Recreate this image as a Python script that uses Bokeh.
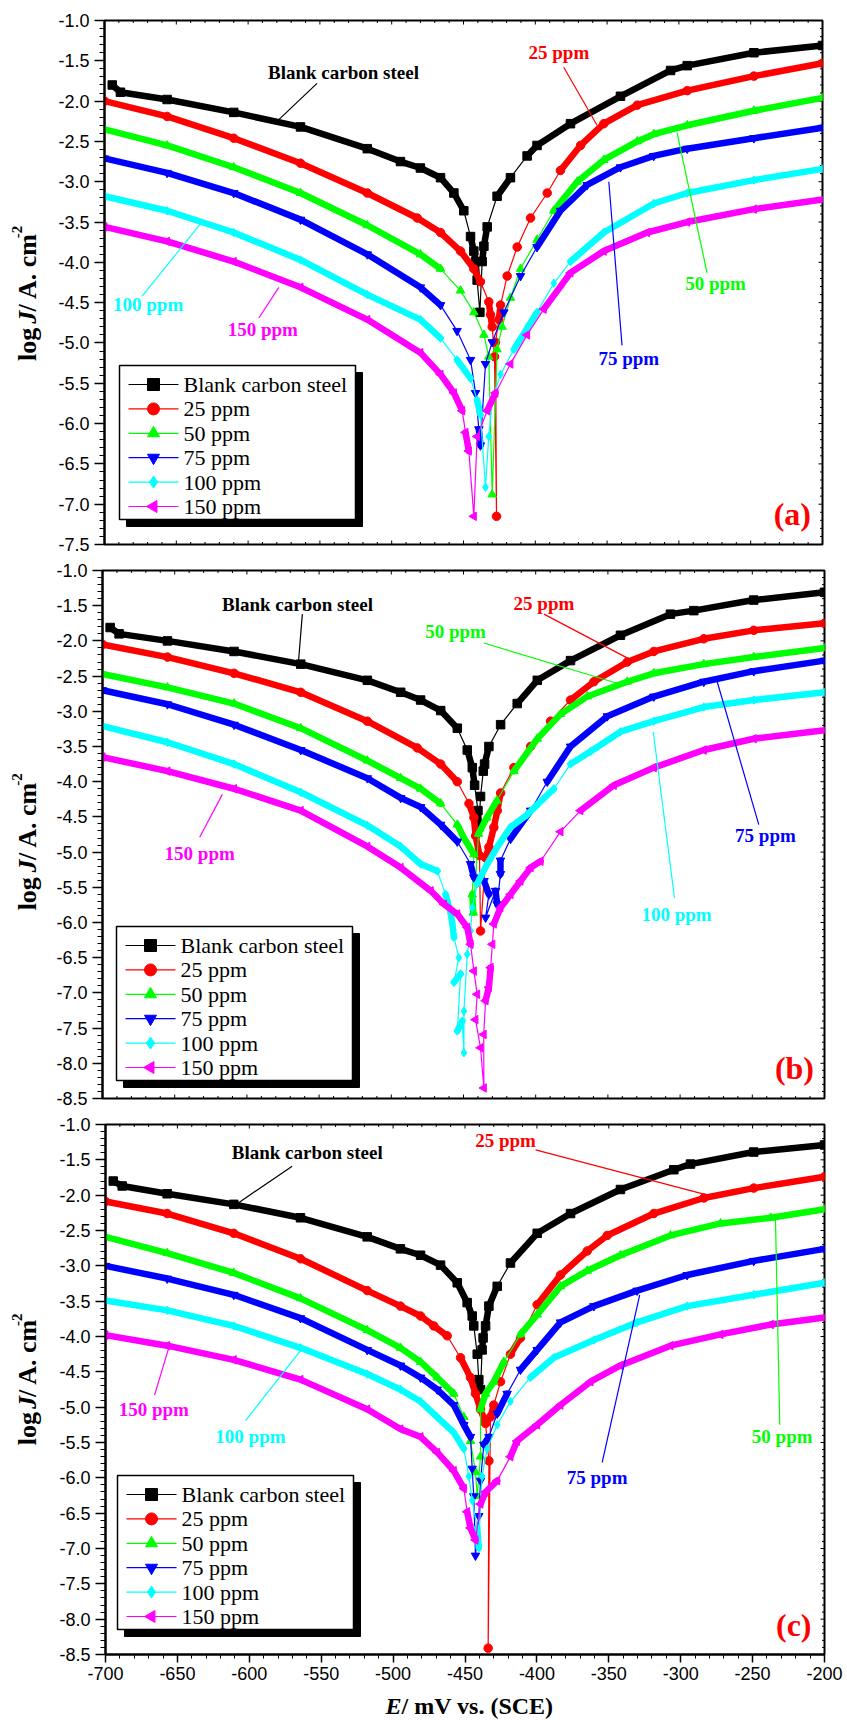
from math import pi
from bokeh.plotting import figure
from bokeh.models import Range1d, FixedTicker, PrintfTickFormatter, LinearAxis, Label
from bokeh.layouts import column, row
from bokeh.embed import file_html
from bokeh.resources import INLINE

# ---------------- data ----------------
SERIES_NAMES = ["Blank carbon steel", "25 ppm", "50 ppm", "75 ppm", "100 ppm", "150 ppm"]
COLORS = ["#000000", "#ff0000", "#00ff00", "#0000ff", "#00ffff", "#ff00ff"]
MARKERS = ["square", "circle", "triangle", "inverted_triangle", "diamond", "triangle"]
MARKER_ANGLES = [0, 0, 0, 0, 0, pi / 2]

X_TICKS = [-700, -650, -600, -550, -500, -450, -400, -350, -300, -250, -200]
Y_TICKS_A = [-1.0, -1.5, -2.0, -2.5, -3.0, -3.5, -4.0, -4.5, -5.0, -5.5, -6.0, -6.5, -7.0, -7.5]
Y_TICKS_BC = [-1.0, -1.5, -2.0, -2.5, -3.0, -3.5, -4.0, -4.5, -5.0, -5.5, -6.0, -6.5, -7.0, -7.5, -8.0, -8.5]

# panel (a)
A_E_BLANK = [-694.6, -688.9, -656.4, -610.0, -563.5, -517.0, -493.9, -480.0, -466.0, -456.7, -449.8, -445.1, -442.8, -441.6, -440.5, -438.6, -437.0, -435.8, -433.5, -426.6, -417.3, -405.7, -398.8, -375.5, -340.7, -305.8, -294.2, -247.8, -200.0]
A_J_BLANK = [-1.80, -1.89, -1.98, -2.14, -2.32, -2.59, -2.75, -2.83, -2.95, -3.14, -3.36, -3.68, -3.86, -3.99, -4.22, -4.62, -3.99, -3.80, -3.56, -3.18, -2.95, -2.68, -2.55, -2.28, -1.94, -1.62, -1.56, -1.40, -1.31]
A_E_25 = [-700.0, -656.4, -610.0, -563.5, -517.0, -482.2, -466.0, -452.1, -442.8, -438.2, -432.4, -431.2, -430.0, -428.4, -427.0, -427.7, -425.4, -424.2, -419.6, -412.6, -403.3, -391.7, -382.5, -368.5, -352.3, -329.0, -294.2, -247.8, -200.0]
A_J_25 = [-2.00, -2.19, -2.46, -2.77, -3.14, -3.45, -3.63, -3.86, -4.08, -4.24, -4.49, -4.65, -4.80, -5.17, -7.15, -4.99, -4.71, -4.53, -4.17, -3.81, -3.45, -3.14, -2.86, -2.55, -2.28, -2.05, -1.87, -1.69, -1.53]
A_E_50 = [-700.0, -656.4, -610.0, -563.5, -517.0, -480.0, -466.0, -452.1, -442.8, -435.8, -432.4, -430.0, -426.6, -423.1, -417.3, -410.3, -398.8, -387.1, -370.8, -352.3, -329.0, -317.5, -294.2, -247.8, -200.0]
A_J_50 = [-2.35, -2.55, -2.82, -3.14, -3.54, -3.90, -4.08, -4.35, -4.62, -4.90, -5.17, -6.88, -5.08, -4.80, -4.44, -4.08, -3.72, -3.36, -3.00, -2.73, -2.50, -2.41, -2.30, -2.12, -1.96]
A_E_75 = [-700.0, -656.4, -610.0, -563.5, -517.0, -480.0, -466.0, -454.5, -445.1, -441.6, -439.3, -438.2, -434.7, -430.0, -421.9, -410.3, -398.8, -382.5, -363.9, -340.7, -317.5, -294.2, -247.8, -200.0]
A_J_75 = [-2.71, -2.89, -3.14, -3.47, -3.90, -4.31, -4.53, -4.85, -5.21, -5.62, -6.07, -6.27, -5.26, -4.99, -4.62, -4.17, -3.81, -3.36, -3.04, -2.82, -2.68, -2.59, -2.46, -2.33]
A_E_100 = [-700.0, -656.4, -610.0, -563.5, -517.0, -480.0, -466.0, -454.5, -445.1, -440.5, -438.2, -434.7, -432.4, -430.0, -424.2, -414.9, -398.8, -387.1, -375.5, -352.3, -317.5, -294.2, -247.8, -200.0]
A_J_100 = [-3.18, -3.36, -3.63, -3.97, -4.40, -4.71, -4.94, -5.21, -5.44, -5.71, -5.89, -6.79, -6.16, -5.71, -5.39, -5.08, -4.62, -4.26, -3.99, -3.63, -3.27, -3.14, -2.98, -2.84]
A_E_150 = [-700.0, -656.4, -610.0, -563.5, -517.0, -480.0, -466.0, -456.7, -450.9, -448.6, -446.3, -442.8, -440.5, -433.5, -427.7, -417.3, -405.7, -394.1, -375.5, -352.3, -322.1, -294.2, -247.8, -200.0]
A_J_150 = [-3.56, -3.74, -3.99, -4.31, -4.71, -5.12, -5.39, -5.62, -5.84, -6.11, -6.34, -7.15, -6.16, -5.84, -5.62, -5.26, -4.90, -4.58, -4.13, -3.86, -3.63, -3.50, -3.34, -3.22]

# panel (b)
B_E_BLANK = [-694.7, -688.5, -655.0, -608.9, -562.7, -516.6, -493.5, -479.7, -465.8, -454.3, -447.4, -443.9, -442.3, -440.0, -439.3, -438.2, -436.3, -435.4, -432.4, -424.3, -412.8, -398.9, -375.9, -341.3, -306.7, -290.5, -249.0, -200.0]
B_J_BLANK = [-1.81, -1.90, -2.00, -2.15, -2.33, -2.56, -2.73, -2.84, -2.99, -3.24, -3.55, -3.80, -4.05, -4.41, -4.64, -4.21, -3.85, -3.75, -3.50, -3.19, -2.89, -2.56, -2.28, -1.92, -1.62, -1.57, -1.42, -1.31]
B_E_25 = [-700.0, -655.0, -608.9, -562.7, -516.6, -482.0, -465.8, -454.3, -446.2, -442.8, -441.6, -438.9, -438.2, -434.7, -432.4, -429.0, -426.6, -424.3, -415.1, -403.5, -389.7, -375.9, -359.7, -336.6, -318.2, -283.6, -249.0, -200.0]
B_J_25 = [-2.05, -2.23, -2.46, -2.73, -3.14, -3.52, -3.75, -4.00, -4.31, -4.51, -4.77, -5.05, -6.12, -5.08, -4.93, -4.65, -4.41, -4.16, -3.80, -3.50, -3.14, -2.84, -2.58, -2.30, -2.15, -1.97, -1.85, -1.75]
B_E_50 = [-700.0, -655.0, -608.9, -562.7, -516.6, -493.5, -479.7, -465.8, -454.3, -449.7, -442.8, -443.9, -443.2, -439.6, -433.8, -426.9, -415.1, -398.9, -382.8, -364.3, -336.6, -318.2, -283.6, -249.0, -200.0]
B_J_50 = [-2.47, -2.66, -2.89, -3.24, -3.70, -3.95, -4.10, -4.31, -4.61, -4.80, -5.03, -5.60, -5.86, -4.74, -4.51, -4.27, -3.85, -3.39, -3.04, -2.79, -2.58, -2.46, -2.33, -2.23, -2.10]
B_E_75 = [-700.0, -655.0, -608.9, -562.7, -516.6, -493.5, -479.7, -465.8, -454.3, -445.1, -442.8, -435.8, -432.4, -434.7, -427.8, -426.7, -424.4, -424.4, -417.4, -403.5, -392.0, -375.9, -350.4, -318.2, -283.6, -249.0, -200.0]
B_J_75 = [-2.70, -2.90, -3.19, -3.55, -3.95, -4.23, -4.36, -4.61, -4.85, -5.17, -5.36, -5.41, -5.60, -5.93, -5.55, -5.74, -5.31, -5.12, -4.81, -4.41, -4.00, -3.50, -3.07, -2.79, -2.58, -2.43, -2.28]
B_E_100 = [-700.0, -655.0, -608.9, -562.7, -516.6, -493.5, -479.7, -468.1, -462.4, -458.9, -457.7, -456.6, -453.2, -456.6, -452.0, -454.3, -450.8, -449.7, -449.7, -447.4, -445.1, -443.9, -440.5, -433.6, -426.7, -417.6, -406.0, -399.1, -387.4, -375.9, -362.0, -341.3, -318.2, -283.6, -249.0, -200.0]
B_J_100 = [-3.21, -3.44, -3.75, -4.15, -4.62, -4.92, -5.17, -5.27, -5.60, -5.86, -6.02, -6.21, -6.50, -6.85, -6.73, -7.54, -7.40, -7.85, -7.26, -6.45, -6.12, -5.79, -5.45, -5.17, -4.93, -4.65, -4.47, -4.33, -4.10, -3.75, -3.57, -3.29, -3.14, -2.94, -2.84, -2.73]
B_E_150 = [-700.0, -655.0, -608.9, -562.7, -516.6, -493.5, -472.7, -463.5, -454.3, -447.4, -445.1, -442.8, -440.5, -441.7, -438.2, -435.9, -436.0, -434.7, -432.4, -431.2, -430.0, -429.0, -424.4, -417.4, -410.5, -403.5, -396.6, -382.8, -369.0, -345.9, -318.2, -283.6, -249.0, -200.0]
B_J_150 = [-3.65, -3.85, -4.10, -4.41, -4.92, -5.22, -5.55, -5.74, -5.88, -6.07, -6.31, -6.69, -7.02, -7.38, -7.78, -8.35, -7.59, -7.11, -6.92, -6.64, -6.31, -6.02, -5.79, -5.60, -5.41, -5.22, -5.13, -4.71, -4.41, -4.05, -3.80, -3.55, -3.39, -3.27]

# panel (c)
C_E_BLANK = [-694.6, -688.4, -657.1, -610.8, -564.4, -518.0, -494.9, -480.9, -467.0, -455.4, -448.5, -445.0, -443.9, -441.5, -440.4, -439.2, -438.1, -437.4, -435.7, -433.4, -427.6, -418.4, -399.8, -376.6, -341.9, -304.8, -293.2, -249.2, -200.0]
C_J_BLANK = [-1.80, -1.87, -1.98, -2.13, -2.32, -2.59, -2.76, -2.85, -2.99, -3.24, -3.52, -3.71, -3.85, -4.25, -4.61, -4.75, -4.19, -4.02, -3.85, -3.57, -3.29, -2.96, -2.54, -2.26, -1.92, -1.64, -1.56, -1.39, -1.29]
C_E_25 = [-700.0, -657.1, -610.8, -564.4, -518.0, -494.9, -480.9, -471.7, -462.4, -453.1, -446.2, -442.7, -439.2, -435.7, -433.4, -433.9, -432.3, -430.0, -425.3, -418.4, -411.4, -399.8, -383.6, -365.0, -351.1, -318.7, -283.9, -249.2, -200.0]
C_J_25 = [-2.09, -2.26, -2.54, -2.90, -3.35, -3.57, -3.71, -3.85, -3.99, -4.30, -4.58, -4.81, -5.03, -5.23, -5.76, -8.41, -5.14, -4.97, -4.64, -4.25, -4.02, -3.55, -3.13, -2.79, -2.57, -2.26, -2.04, -1.90, -1.74]
C_E_50 = [-700.0, -657.1, -610.8, -564.4, -518.0, -494.9, -480.9, -469.3, -457.8, -450.8, -446.2, -442.7, -441.5, -439.2, -439.2, -435.7, -430.0, -423.0, -411.4, -399.8, -383.6, -365.0, -341.9, -307.1, -272.3, -237.3, -200.0]
C_J_50 = [-2.59, -2.82, -3.10, -3.46, -3.91, -4.16, -4.36, -4.58, -4.81, -5.14, -5.48, -5.92, -6.26, -5.70, -5.03, -4.81, -4.64, -4.36, -3.97, -3.69, -3.29, -3.07, -2.85, -2.57, -2.40, -2.32, -2.20]
C_E_75 = [-700.0, -657.1, -610.8, -564.4, -518.0, -494.9, -480.9, -469.3, -457.8, -450.8, -446.2, -445.0, -443.9, -442.7, -440.4, -439.2, -436.9, -433.4, -427.6, -420.7, -411.4, -399.8, -383.6, -360.4, -330.3, -295.5, -249.2, -200.0]
C_J_75 = [-3.00, -3.18, -3.41, -3.74, -4.19, -4.41, -4.58, -4.75, -4.97, -5.25, -5.42, -5.87, -6.26, -7.10, -6.54, -6.04, -5.53, -5.42, -5.09, -4.81, -4.47, -4.19, -3.80, -3.57, -3.35, -3.13, -2.93, -2.76]
C_E_100 = [-700.0, -657.1, -610.8, -564.4, -518.0, -494.9, -480.9, -469.3, -457.8, -450.8, -447.3, -445.0, -441.5, -440.4, -439.2, -438.1, -434.6, -427.6, -418.4, -404.5, -388.3, -360.4, -330.3, -295.5, -249.2, -200.0]
C_J_100 = [-3.49, -3.63, -3.85, -4.16, -4.53, -4.75, -4.92, -5.14, -5.36, -5.59, -5.98, -6.32, -6.71, -6.99, -6.37, -5.98, -5.59, -5.25, -4.92, -4.58, -4.30, -4.05, -3.80, -3.57, -3.41, -3.24]
C_E_150 = [-700.0, -657.1, -610.8, -564.4, -518.0, -494.9, -480.9, -469.3, -457.8, -450.8, -448.5, -446.2, -442.7, -439.2, -435.7, -427.6, -418.4, -413.8, -399.8, -383.6, -362.7, -341.9, -307.1, -272.3, -237.3, -200.0]
C_J_150 = [-3.98, -4.13, -4.33, -4.61, -5.03, -5.31, -5.42, -5.64, -5.90, -6.15, -6.48, -6.71, -6.88, -6.37, -6.20, -6.04, -5.70, -5.48, -5.25, -4.97, -4.64, -4.41, -4.13, -3.97, -3.83, -3.73]

PANEL_A = [(A_E_BLANK, A_J_BLANK), (A_E_25, A_J_25), (A_E_50, A_J_50), (A_E_75, A_J_75), (A_E_100, A_J_100), (A_E_150, A_J_150)]
PANEL_B = [(B_E_BLANK, B_J_BLANK), (B_E_25, B_J_25), (B_E_50, B_J_50), (B_E_75, B_J_75), (B_E_100, B_J_100), (B_E_150, B_J_150)]
PANEL_C = [(C_E_BLANK, C_J_BLANK), (C_E_25, C_J_25), (C_E_50, C_J_50), (C_E_75, C_J_75), (C_E_100, C_J_100), (C_E_150, C_J_150)]

# ---------------- layout / style ----------------
SERIF = "Liberation Serif"
SANS = "Liberation Sans"
PAGE_W = 847
TITLE_W = 44          # width of the strip that holds the rotated y title
XTITLE_H = 30         # height of the strip holding the x title

# frame geometry (px, relative to each panel row)
GEOM = {
    "a": dict(left=104, top=20, fw=718, fh=524, ybot=-7.5, height=557, bottom_lab=False),
    "b": dict(left=102, top=13, fw=722, fh=528, ybot=-8.5, height=553, bottom_lab=False),
    "c": dict(left=105, top=14, fw=719, fh=530, ybot=-8.5, height=580, bottom_lab=True),
}
XMIN, XMAX, YTOP = -700.0, -200.0, -1.0


def to_data(g, X, Y):
    """frame-relative pixel offset -> data coordinates"""
    x = XMIN + X * (XMAX - XMIN) / g["fw"]
    y = YTOP - Y * (YTOP - g["ybot"]) / g["fh"]
    return x, y


def add_label(p, x, y, s, color="black", size=18, style="bold", font=SERIF,
              align="center", baseline="middle", angle=0.0):
    p.add_layout(Label(x=x, y=y, text=s, text_color=color, text_font=font,
                       text_font_size=f"{size}px", text_font_style=style,
                       text_align=align, text_baseline=baseline, angle=angle))


def plain_fig(w, h, xr, yr):
    f = figure(width=w, height=h, output_backend="svg", toolbar_location=None,
               x_range=Range1d(*xr), y_range=Range1d(*yr),
               min_border=0, x_axis_location=None, y_axis_location=None)
    f.xgrid.visible = False
    f.ygrid.visible = False
    f.outline_line_color = None
    f.background_fill_color = "white"
    f.border_fill_color = "white"
    return f


def draw_series(p, E, J, color, marker, angle, pxu, pxe):
    runs, cur = [], [0]
    for i in range(1, len(E)):
        dy = abs(J[i] - J[i - 1]) * pxu
        dx = abs(E[i] - E[i - 1]) * pxe
        if dy > 20 and dx < 20:
            if len(cur) > 1:
                runs.append(cur)
            cur = [i]
        else:
            cur.append(i)
    if len(cur) > 1:
        runs.append(cur)
    p.line(E, J, line_color=color, line_width=1.2)
    if runs:
        p.multi_line([[E[k] for k in r] for r in runs], [[J[k] for k in r] for r in runs],
                     line_color=color, line_width=6.5, line_join="round", line_cap="round")
    p.scatter(E, J, marker=marker, size=8.5, angle=angle, fill_color=color, line_color=color)


def make_panel(key, series, y_ticks, annotations, tag, tag_pos, legend_pos, title_shift):
    g = GEOM[key]
    bottom_border = g["height"] - g["top"] - g["fh"]
    right_border = PAGE_W - g["left"] - g["fw"]
    p = figure(width=PAGE_W - TITLE_W, height=g["height"], output_backend="svg",
               toolbar_location=None,
               x_range=Range1d(XMIN, XMAX), y_range=Range1d(g["ybot"], YTOP),
               min_border_left=g["left"] - TITLE_W, min_border_right=right_border,
               min_border_top=g["top"], min_border_bottom=bottom_border,
               x_axis_location=None, y_axis_location=None)
    p.xgrid.visible = False
    p.ygrid.visible = False
    p.outline_line_color = "black"
    p.outline_line_width = 2
    p.background_fill_color = "white"
    p.border_fill_color = "white"

    x_minor = [v for v in range(-700, -199, 10) if v % 50 != 0]
    n_y = int(round((YTOP - g["ybot"]) / 0.1))
    y_all = [round(YTOP - 0.1 * k, 2) for k in range(n_y + 1)]
    y_minor = [v for v in y_all if v not in y_ticks]
    xt = FixedTicker(ticks=X_TICKS, minor_ticks=x_minor)
    yt = FixedTicker(ticks=y_ticks, minor_ticks=y_minor)

    def style_axis(ax):
        ax.axis_line_color = "black"
        ax.axis_line_width = 2
        ax.major_tick_line_color = "black"
        ax.minor_tick_line_color = "black"
        ax.major_tick_line_width = 1.5
        ax.minor_tick_line_width = 1

    left = LinearAxis(ticker=yt, formatter=PrintfTickFormatter(format="%.1f"))
    style_axis(left)
    left.major_tick_out, left.major_tick_in = 10, 0
    left.minor_tick_out, left.minor_tick_in = 5, 0
    left.major_label_standoff = 5
    left.major_label_text_font = SANS
    left.major_label_text_font_size = "18px"
    left.major_label_text_color = "black"
    p.add_layout(left, "left")

    if g["bottom_lab"]:
        bottom = LinearAxis(ticker=xt, formatter=PrintfTickFormatter(format="%d"))
        style_axis(bottom)
        bottom.major_tick_out, bottom.major_tick_in = 8, 0
        bottom.minor_tick_out, bottom.minor_tick_in = 4, 0
        bottom.major_label_standoff = 4
        bottom.major_label_text_font = SANS
        bottom.major_label_text_font_size = "18px"
        bottom.major_label_text_color = "black"
        p.add_layout(bottom, "below")

    # small mirrored ticks drawn inside the frame (top, right, and bottom of a/b)
    pxe = g["fw"] / (XMAX - XMIN)
    pxu = g["fh"] / (YTOP - g["ybot"])
    xs_all = X_TICKS + x_minor
    tlen = [4.0 if v in X_TICKS else 2.5 for v in xs_all]
    p.segment(x0=xs_all, x1=xs_all, y0=[YTOP] * len(xs_all),
              y1=[YTOP - t / pxu for t in tlen], line_color="black", line_width=1)
    if not g["bottom_lab"]:
        p.segment(x0=xs_all, x1=xs_all, y0=[g["ybot"]] * len(xs_all),
                  y1=[g["ybot"] + t / pxu for t in tlen], line_color="black", line_width=1)
    ys_all = list(y_ticks) + y_minor
    ylen = [4.0 if v in y_ticks else 2.5 for v in ys_all]
    p.segment(x0=[XMAX] * len(ys_all), x1=[XMAX - t / pxe for t in ylen], y0=ys_all, y1=ys_all,
              line_color="black", line_width=1)

    for (E, J), c, m, a in zip(series, COLORS, MARKERS, MARKER_ANGLES):
        draw_series(p, E, J, c, m, a, pxu, pxe)

    # annotations with leader lines
    for name, idx, tpos, l0, l1 in annotations:
        p.line([l0[0], l1[0]], [l0[1], l1[1]], line_color=COLORS[idx], line_width=1.2)
        add_label(p, tpos[0], tpos[1], name, color=COLORS[idx], size=19)

    add_label(p, tag_pos[0], tag_pos[1], tag, color="#ff0000", size=32)

    # legend (box with drop shadow)
    L, T = legend_pos
    BW, BH = 236, 154
    sx0, sy0 = to_data(g, L + 7, T + 7)
    sx1, sy1 = to_data(g, L + 7 + BW, T + 7 + BH)
    p.quad(left=sx0, right=sx1, top=sy0, bottom=sy1, fill_color="black", line_color="black")
    bx0, by0 = to_data(g, L, T)
    bx1, by1 = to_data(g, L + BW, T + BH)
    p.quad(left=bx0, right=bx1, top=by0, bottom=by1, fill_color="white",
           line_color="black", line_width=1.5)
    for i, (name, c, m, a) in enumerate(zip(SERIES_NAMES, COLORS, MARKERS, MARKER_ANGLES)):
        Yr = T + 19 + i * 24.4
        xa, yr = to_data(g, L + 9, Yr)
        xb, _ = to_data(g, L + 59, Yr)
        xm, _ = to_data(g, L + 34, Yr)
        xt_, _ = to_data(g, L + 64, Yr)
        p.line([xa, xb], [yr, yr], line_color=c, line_width=1.2)
        p.scatter([xm], [yr], marker=m, angle=a, size=12, fill_color=c, line_color=c)
        add_label(p, xt_, yr, name, size=22, style="normal", align="left")

    # y-axis title strip: log J/ A. cm^-2 (rotated, reads bottom to top)
    tf = plain_fig(TITLE_W, g["height"], (0, TITLE_W), (g["height"], 0))
    fs, fsup = 26, 15
    w_log, w_J, w_rest, w_sup = 1.528 * fs, 0.5 * fs, 3.027 * fs, 0.833 * fsup
    total = w_log + w_J + w_rest + w_sup
    Yc = g["top"] + g["fh"] / 2 + title_shift
    Y0 = Yc + total / 2
    pieces = [("log ", "bold", Y0, 27, fs), ("J", "bold italic", Y0 - w_log, 27, fs),
              ("/ A. cm", "bold", Y0 - w_log - w_J, 27, fs),
              ("-2", "bold", Y0 - w_log - w_J - w_rest + 1, 16, fsup)]
    for s, st, Yp, Xp, size in pieces:
        add_label(tf, Xp, Yp, s, size=size, style=st, align="left", angle=pi / 2)
    return row(tf, p, spacing=0)


ANN_A = [
    ("Blank carbon steel", 0, (-533.6, -1.645), (-552.0, -1.78), (-578.6, -2.23)),
    ("25 ppm", 1, (-383.6, -1.40), (-380.2, -1.58), (-357.0, -2.30)),
    ("50 ppm", 2, (-274.5, -4.26), (-280.4, -4.13), (-301.3, -2.39)),
    ("75 ppm", 3, (-334.9, -5.19), (-339.6, -5.03), (-348.8, -3.00)),
    ("100 ppm", 4, (-669.6, -4.52), (-673.8, -4.42), (-633.1, -3.52)),
    ("150 ppm", 5, (-589.8, -4.83), (-592.5, -4.69), (-578.6, -4.31)),
]
ANN_B = [
    ("Blank carbon steel", 0, (-565.0, -1.49), (-561.6, -1.62), (-564.3, -2.30)),
    ("25 ppm", 1, (-394.3, -1.47), (-394.3, -1.62), (-333.1, -2.28)),
    ("50 ppm", 2, (-455.5, -1.86), (-435.9, -2.03), (-339.0, -2.63)),
    ("75 ppm", 3, (-240.9, -4.77), (-245.5, -4.61), (-274.3, -2.58)),
    ("100 ppm", 4, (-302.5, -5.88), (-303.9, -5.65), (-318.6, -3.29)),
    ("150 ppm", 5, (-632.7, -5.02), (-632.7, -4.79), (-617.0, -4.18)),
]
ANN_C = [
    ("Blank carbon steel", 0, (-559.7, -1.39), (-570.2, -1.59), (-608.4, -2.12)),
    ("25 ppm", 1, (-421.8, -1.22), (-400.9, -1.36), (-279.3, -2.01)),
    ("50 ppm", 2, (-229.4, -5.41), (-231.1, -5.25), (-234.1, -2.34)),
    ("75 ppm", 3, (-358.1, -5.99), (-354.6, -5.78), (-328.5, -3.41)),
    ("100 ppm", 4, (-599.2, -5.41), (-602.6, -5.19), (-564.4, -4.20)),
    ("150 ppm", 5, (-666.4, -5.03), (-665.9, -4.83), (-656.0, -4.16)),
]

ra = make_panel("a", PANEL_A, Y_TICKS_A, ANN_A, "(a)", (-221.0, -7.12), (15, 345), 8)
rb = make_panel("b", PANEL_B, Y_TICKS_BC, ANN_B, "(b)", (-220.8, -8.06), (14, 356), 7)
rc = make_panel("c", PANEL_C, Y_TICKS_BC, ANN_C, "(c)", (-221.4, -8.08), (12, 351), 0)

# x-axis title strip under panel (c): "E/ mV vs. (SCE)"
xf = plain_fig(PAGE_W, XTITLE_H, (0, PAGE_W), (XTITLE_H, 0))
w_E, w_r = 0.667 * 24, 6.333 * 24
X0 = 469 - (w_E + w_r) / 2
add_label(xf, X0, XTITLE_H / 2, "E", size=24, style="bold italic", align="left")
add_label(xf, X0 + w_E, XTITLE_H / 2, "/ mV vs. (SCE)", size=24, style="bold", align="left")

layout = column(ra, rb, rc, xf, spacing=0)
open("out.html", "w").write(file_html(layout, INLINE))
